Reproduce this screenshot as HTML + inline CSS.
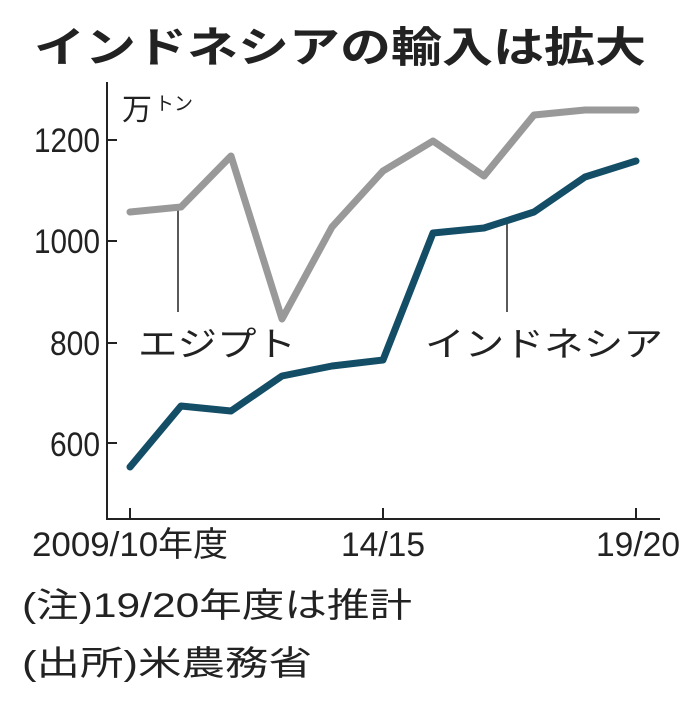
<!DOCTYPE html>
<html><head><meta charset="utf-8"><style>
html,body{margin:0;padding:0;background:#fff;}
svg text{font-family:"Liberation Sans","Noto Sans CJK JP",sans-serif;fill:#222;}
</style></head><body>
<svg width="680" height="699" viewBox="0 0 680 699" xmlns="http://www.w3.org/2000/svg">
<text x="340" y="62" text-anchor="middle" font-size="42" font-weight="bold" style="font-family:'Noto Sans CJK JP',sans-serif" textLength="612" lengthAdjust="spacingAndGlyphs">インドネシアの輸入は拡大</text>
<g stroke="#222" stroke-width="2" fill="none">
<line x1="107" y1="82" x2="107" y2="519"/>
<line x1="106" y1="519" x2="660" y2="519"/>
<line x1="107" y1="140" x2="117" y2="140"/>
<line x1="107" y1="241" x2="117" y2="241"/>
<line x1="107" y1="343" x2="117" y2="343"/>
<line x1="107" y1="443" x2="117" y2="443"/>
<line x1="130" y1="508" x2="130" y2="519"/>
<line x1="383" y1="508" x2="383" y2="519"/>
<line x1="636" y1="508" x2="636" y2="519"/>
<line x1="178" y1="208" x2="178" y2="312" stroke-width="1.5"/>
<line x1="507" y1="222" x2="507" y2="312" stroke-width="1.5"/>
</g>
<g font-size="34" text-anchor="end">
<text x="100" y="152" textLength="66" lengthAdjust="spacingAndGlyphs">1200</text>
<text x="100" y="253" textLength="66" lengthAdjust="spacingAndGlyphs">1000</text>
<text x="100" y="355" textLength="50" lengthAdjust="spacingAndGlyphs">800</text>
<text x="100" y="456" textLength="50" lengthAdjust="spacingAndGlyphs">600</text>
</g>
<text x="122" y="120" font-size="30">万</text><text x="155" y="110" font-size="19">トン</text>
<polyline fill="none" stroke="#999" stroke-width="7" stroke-linejoin="round" stroke-linecap="round"
points="130,212 181,207 231,156 282,319 332,227 383,171 433,141 484,176 534,115 585,110 636,110"/>
<polyline fill="none" stroke="#134d66" stroke-width="7" stroke-linejoin="round" stroke-linecap="round"
points="130,467 181,406 231,411 282,376 332,366 383,360 433,233 484,228 534,212 585,177 636,161"/>
<text x="138" y="356" font-size="34" textLength="158" lengthAdjust="spacingAndGlyphs">エジプト</text>
<text x="425" y="356" font-size="34" textLength="238" lengthAdjust="spacingAndGlyphs">インドネシア</text>
<g font-size="34">
<text x="32" y="556" textLength="196" lengthAdjust="spacingAndGlyphs">2009/10年度</text>
<text x="383" y="556" text-anchor="middle" textLength="84" lengthAdjust="spacingAndGlyphs">14/15</text>
<text x="680" y="556" text-anchor="end" textLength="84" lengthAdjust="spacingAndGlyphs">19/20</text>
<text x="22" y="617" textLength="390" lengthAdjust="spacingAndGlyphs">(注)19/20年度は推計</text>
<text x="22" y="675" textLength="290" lengthAdjust="spacingAndGlyphs">(出所)米農務省</text>
</g>
</svg>
</body></html>
